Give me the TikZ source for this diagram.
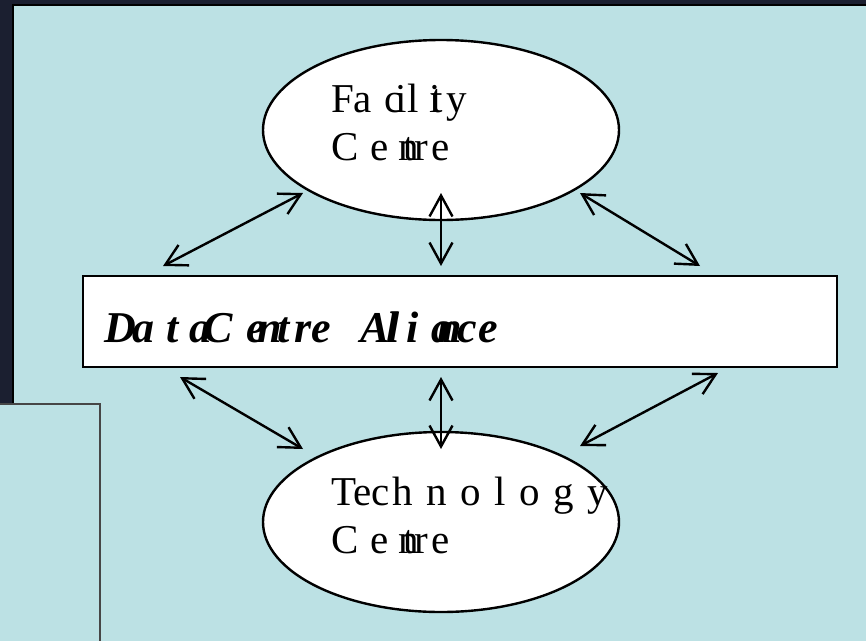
\documentclass[tikz,border=0pt]{standalone}
\usepackage{fontspec}
\setmainfont{Liberation Serif}
\usetikzlibrary{shapes.geometric,arrows.meta}
\definecolor{slidebg}{RGB}{27,31,48}
\definecolor{panel}{RGB}{188,225,228}
\definecolor{boxline}{RGB}{70,70,70}
\begin{document}
\begin{tikzpicture}
        [x=1pt, y=-1pt,
        centre/.style={ellipse, draw, line width=2.4pt, fill=white, minimum width=356pt, minimum height=180pt},
        alliance/.style={rectangle, draw, line width=2.4pt, fill=white, minimum width=754pt, minimum height=91pt},
        centretext/.style={anchor=base west, inner sep=0pt, font=\fontsize{41}{48}\selectfont},
        alliancetext/.style={anchor=base west, inner sep=0pt, font=\fontsize{44}{48}\selectfont\bfseries\itshape},
        link/.style={line width=2.4pt, {Straight Barb[length=21pt,width=23pt]}-{Straight Barb[length=21pt,width=23pt]}}]

        \useasboundingbox (0,0) rectangle (866,640);

        % slide background and panels
        \fill[slidebg] (0,0) rectangle (866,640);
        \draw[line width=2.4pt, fill=panel] (13,5) rectangle (880,660);
        \draw[line width=1.6pt, draw=boxline, fill=panel] (-10,404) rectangle (100,660);

        % the three shapes
        \node[centre] (fac) at (441,130) {};
        \node[alliance] (dca) at (460,321.5) {};
        \node[centre] (tec) at (441,522) {};

        % texts
        \node[centretext] (facname) at (331,112)
            {F\kern-0.8pt a\kern12.8pt c\kern-7.2pt i\kern0.6pt l\kern10.6pt i\kern-9.4pt t\kern3.6pt y};
        \node[centretext] (facword) at (331,160)
            {C\kern11.7pt e\kern9.8pt n\kern-15.5pt t\kern-0.4pt r\kern3.3pt e};
        \node[centretext] (tecname) at (331,505)
            {Tec\kern3pt h\kern13.5pt n\kern13.5pt o\kern13.5pt l\kern13.5pt o\kern13.5pt g\kern13.5pt y};
        \node[centretext] (tecword) at (331,553)
            {C\kern11.7pt e\kern9.8pt n\kern-15.5pt t\kern-0.4pt r\kern3.3pt e};
        \node[alliancetext] (dcaname) at (104,342)
            {D\kern-3.8pt a\kern12pt t\kern10.8pt a\kern-8pt C\kern13.7pt e\kern-8.5pt n\kern-4.5pt t\kern4.8pt r\kern0pt e\kern29.5pt A\kern-3.3pt l\kern-11pt l\kern6.6pt i\kern12.8pt a\kern-16pt n\kern-4.5pt c\kern1.5pt e};

        % arrow ends
        \coordinate (facL) at (303,193);
        \coordinate (facM) at (441,193);
        \coordinate (facR) at (580,193);
        \coordinate (dcaTL) at (163,266);
        \coordinate (dcaTM) at (441,266);
        \coordinate (dcaTR) at (700,266);
        \coordinate (dcaBL) at (180,377);
        \coordinate (dcaBM) at (441,377);
        \coordinate (dcaBR) at (718,373);
        \coordinate (tecL) at (303,449);
        \coordinate (tecM) at (441,449);
        \coordinate (tecR) at (580,446);

        % two-way links
        \draw[link] (dcaTL) -- (facL);
        \draw[link] (dcaTM) -- (facM);
        \draw[link] (dcaTR) -- (facR);
        \draw[link] (dcaBL) -- (tecL);
        \draw[link] (dcaBM) -- (tecM);
        \draw[link] (dcaBR) -- (tecR);

        \end{tikzpicture}
\end{document}
